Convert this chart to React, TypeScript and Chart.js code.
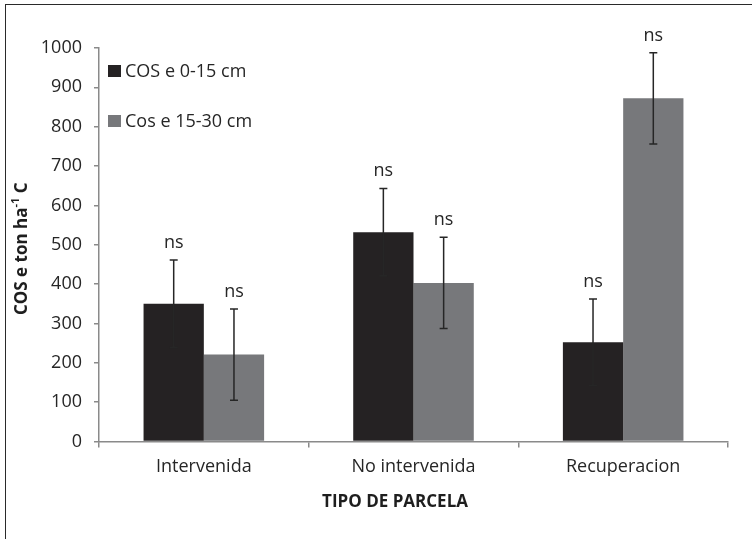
import React, { useEffect, useRef } from "react";
import { Chart, registerables } from "chart.js";

Chart.register(...registerables);

const categories = ["Intervenida", "No intervenida", "Recuperacion"];
const seriesNames = ["COS e 0-15 cm", "Cos e 15-30 cm"];
const series1 = [350, 532, 252];
const series1Err = [111, 111, 110];
const series2 = [221, 403, 872];
const series2Err = [116, 116, 116];
const sigLabels1 = ["ns", "ns", "ns"];
const sigLabels2 = ["ns", "ns", "ns"];
const yTicksMin = 0;
const yTicksMax = 1000;
const yTicksStep = 100;
const xTitle = "TIPO DE PARCELA";
const yTitleMain = "COS e ton ha";
const yTitleSup = "-1";
const yTitleEnd = " C";

const FONT = "'Open Sans', 'DejaVu Sans', sans-serif";
const TEXT = "#262626";
const AXIS = "#8a8a8a";

const overlayPlugin = {
  id: "overlay",
  afterDatasetsDraw(chart: any) {
    const ctx = chart.ctx;
    const y = chart.scales.y;
    const area = chart.chartArea;
    const errs = [series1Err, series2Err];
    const sigs = [sigLabels1, sigLabels2];
    ctx.save();
    chart.data.datasets.forEach((ds: any, di: number) => {
      const meta = chart.getDatasetMeta(di);
      meta.data.forEach((bar: any, i: number) => {
        const v = ds.data[i];
        const e = errs[di][i];
        const yt = y.getPixelForValue(v + e);
        const yb = y.getPixelForValue(v - e);
        const x = bar.x;
        ctx.strokeStyle = "#262626";
        ctx.lineWidth = 1.5;
        ctx.beginPath();
        ctx.moveTo(x, yt);
        ctx.lineTo(x, yb);
        ctx.moveTo(x - 4, yt);
        ctx.lineTo(x + 4, yt);
        ctx.moveTo(x - 4, yb);
        ctx.lineTo(x + 4, yb);
        ctx.stroke();
        ctx.fillStyle = TEXT;
        ctx.font = `18px ${FONT}`;
        ctx.textAlign = "center";
        ctx.textBaseline = "alphabetic";
        ctx.fillText(sigs[di][i], x, yt - 12);
      });
    });

    // legend
    const colors = chart.data.datasets.map((d: any) => d.backgroundColor);
    const legendY = [71, 121];
    chart.data.datasets.forEach((ds: any, di: number) => {
      const cy = legendY[di];
      ctx.fillStyle = colors[di];
      ctx.fillRect(area.left + 9, cy - 6, 13, 12);
      ctx.fillStyle = TEXT;
      ctx.font = `18px ${FONT}`;
      ctx.textAlign = "left";
      ctx.textBaseline = "middle";
      ctx.fillText(ds.label, area.left + 26, cy + 1);
    });

    // x title
    ctx.fillStyle = "#1e1e1e";
    ctx.font = `bold 17px ${FONT}`;
    ctx.textAlign = "center";
    ctx.textBaseline = "middle";
    ctx.fillText(xTitle, 395, 502);

    // y title rotated with superscript
    const mainFont = `bold 17px ${FONT}`;
    const supFont = `bold 11px ${FONT}`;
    ctx.font = mainFont;
    const w1 = ctx.measureText(yTitleMain).width;
    const w3 = ctx.measureText(yTitleEnd).width;
    ctx.font = supFont;
    const w2 = ctx.measureText(yTitleSup).width;
    const total = w1 + w2 + w3;
    ctx.translate(22, (area.top + area.bottom) / 2 + 4);
    ctx.rotate(-Math.PI / 2);
    ctx.textAlign = "left";
    ctx.textBaseline = "middle";
    let cx = -total / 2;
    ctx.font = mainFont;
    ctx.fillText(yTitleMain, cx, 0);
    cx += w1;
    ctx.font = supFont;
    ctx.fillText(yTitleSup, cx, -6);
    cx += w2;
    ctx.font = mainFont;
    ctx.fillText(yTitleEnd, cx, 0);
    ctx.restore();
  },
};

export default function App() {
  const ref = useRef<HTMLCanvasElement | null>(null);
  useEffect(() => {
    if (!ref.current) return;
    const chart = new Chart(ref.current, {
      type: "bar",
      data: {
        labels: categories,
        datasets: [
          {
            label: seriesNames[0],
            data: series1,
            backgroundColor: "#252223",
            borderWidth: 0,
            categoryPercentage: 0.575,
            barPercentage: 1,
          },
          {
            label: seriesNames[1],
            data: series2,
            backgroundColor: "#77787b",
            borderWidth: 0,
            categoryPercentage: 0.575,
            barPercentage: 1,
          },
        ],
      },
      options: {
        animation: false,
        responsive: false,
        devicePixelRatio: 1,
        layout: { padding: { left: 0, right: 24, top: 48, bottom: 0 } },
        plugins: {
          legend: { display: false },
          tooltip: { enabled: false },
        },
        scales: {
          x: {
            grid: {
              offset: true,
              drawOnChartArea: false,
              tickLength: 6,
              color: AXIS,
              lineWidth: 1.5,
            },
            border: { display: true, color: AXIS, width: 1.5 },
            ticks: { color: TEXT, font: { family: FONT, size: 18 }, padding: 9 },
            afterFit: (s: any) => {
              s.height = 97.5;
            },
          },
          y: {
            min: yTicksMin,
            max: yTicksMax,
            grid: {
              drawOnChartArea: false,
              tickLength: 5,
              color: AXIS,
              lineWidth: 1.5,
            },
            border: { display: true, color: AXIS, width: 1.5 },
            ticks: {
              stepSize: yTicksStep,
              color: TEXT,
              font: { family: FONT, size: 18 },
              padding: 12,
              callback: (v: any) => String(v),
            },
            afterFit: (s: any) => {
              s.width = 99;
            },
          },
        },
      },
      plugins: [overlayPlugin],
    });
    return () => chart.destroy();
  }, []);

  return (
    <div
      style={{
        position: "fixed",
        left: 0,
        top: 0,
        width: 752,
        height: 539,
        background: "#fff",
        overflow: "hidden",
      }}
    >
      <div
        style={{
          position: "absolute",
          left: 5,
          top: 4,
          width: 800,
          height: 600,
          borderLeft: "1.5px solid #2a2a2a",
          borderTop: "1.5px solid #2a2a2a",
        }}
      />
      <canvas
        ref={ref}
        width={752}
        height={539}
        style={{ position: "absolute", left: 0, top: 0, width: 752, height: 539 }}
      />
    </div>
  );
}
